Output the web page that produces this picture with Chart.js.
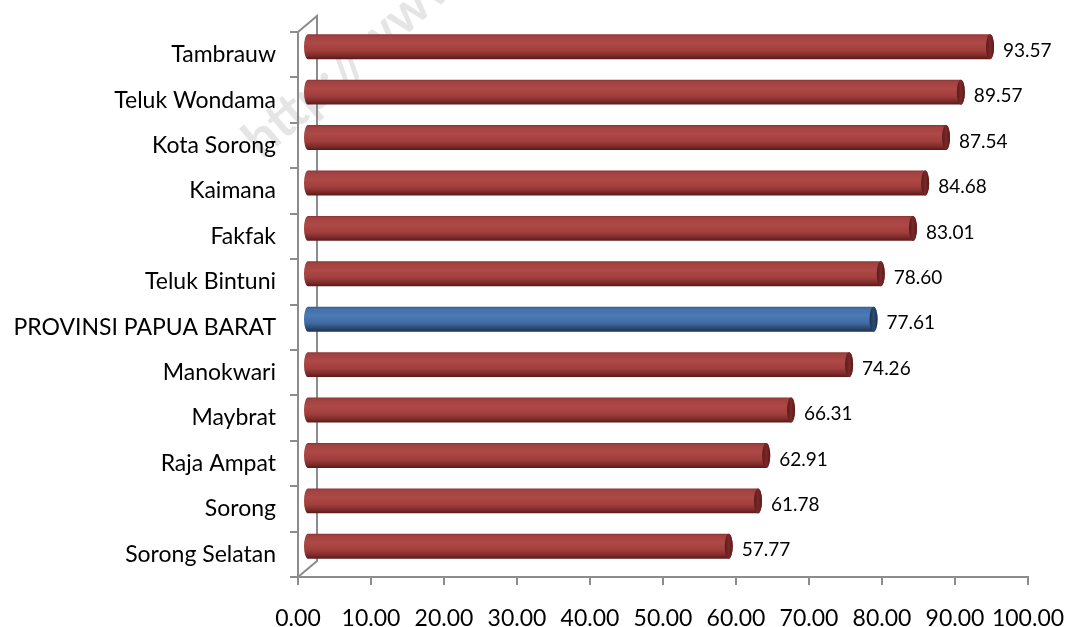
<!DOCTYPE html>
<html>
<head>
<meta charset="utf-8">
<script src="https://cdn.jsdelivr.net/npm/chart.js@4.4.1/dist/chart.umd.min.js"></script>
<style>
  html, body { margin: 0; padding: 0; background: #ffffff; }
  #wrap { width: 1067px; height: 627px; }
</style>
</head>
<body>
<div id="wrap"><canvas id="c" width="1067" height="627"></canvas></div>
<script>
// Regions, top to bottom
const regions = [
  'Tambrauw', 'Teluk Wondama', 'Kota Sorong', 'Kaimana', 'Fakfak', 'Teluk Bintuni',
  'PROVINSI PAPUA BARAT', 'Manokwari', 'Maybrat', 'Raja Ampat', 'Sorong', 'Sorong Selatan'
];
const values = [93.57, 89.57, 87.54, 84.68, 83.01, 78.60, 77.61, 74.26, 66.31, 62.91, 61.78, 57.77];
const provinceLabel = 'PROVINSI PAPUA BARAT';
const xTickValues = [0, 10, 20, 30, 40, 50, 60, 70, 80, 90, 100];

const AXIS = '#8c8c8c';
const FONT = 'Lato';
// 3D depth of the plot box and mid-depth offset for the cylinders
const DEPTH_X = 19, DEPTH_Y = -16;
const DX = 9, DY = -8, RX = 4;

const RED = {
  stops: [[0, '#8a3432'], [0.08, '#a24240'], [0.35, '#ad4947'], [0.65, '#a13f3d'], [0.86, '#7e2b2a'], [1, '#561a19']],
  cap: '#7c2828', capEdge: '#581a1a'
};
const BLUE = {
  stops: [[0, '#34598c'], [0.08, '#4570a8'], [0.35, '#4d7ab5'], [0.65, '#416ba3'], [0.86, '#2b4a72'], [1, '#1c3150']],
  cap: '#2c4b76', capEdge: '#1c3050'
};

const cylinders = {
  id: 'cylinders',
  beforeDraw(chart) {
    const ctx = chart.ctx;
    ctx.save();
    ctx.translate(262, 160);
    ctx.rotate(-41 * Math.PI / 180);
    ctx.font = 'bold 52px ' + FONT;
    ctx.fillStyle = 'rgba(0,0,0,0.1)';
    ctx.textAlign = 'left';
    ctx.textBaseline = 'alphabetic';
    ctx.fillText('http://www', 0, 0);
    ctx.restore();
  },
  beforeDatasetsDraw(chart) {
    // back wall edges of the plot box
    const ctx = chart.ctx;
    const x0 = chart.scales.x.getPixelForValue(0);
    const { top, bottom } = chart.chartArea;
    ctx.save();
    ctx.strokeStyle = AXIS;
    ctx.lineWidth = 2;
    ctx.beginPath();
    ctx.moveTo(x0, top);
    ctx.lineTo(x0 + DEPTH_X, top + DEPTH_Y);
    ctx.lineTo(x0 + DEPTH_X, bottom + DEPTH_Y);
    ctx.lineTo(x0, bottom);
    ctx.stroke();
    ctx.restore();
  },
  beforeDatasetDraw() { return false; },
  afterDatasetsDraw(chart) {
    const ctx = chart.ctx;
    const meta = chart.getDatasetMeta(0);
    meta.data.forEach((bar, i) => {
      const p = bar.getProps(['x', 'y', 'base', 'height'], true);
      const x0 = p.base + DX, x1 = p.x + DX, yc = p.y + DY, h = p.height;
      const top = yc - h / 2;
      const pal = regions[i] === provinceLabel ? BLUE : RED;
      const g = ctx.createLinearGradient(0, top, 0, top + h);
      pal.stops.forEach(s => g.addColorStop(s[0], s[1]));
      ctx.save();
      ctx.beginPath();
      ctx.moveTo(x1, top);
      ctx.lineTo(x0, top);
      ctx.ellipse(x0, yc, RX, h / 2, 0, -Math.PI / 2, Math.PI / 2, true);
      ctx.lineTo(x1, top + h);
      ctx.ellipse(x1, yc, RX, h / 2, 0, Math.PI / 2, -Math.PI / 2, true);
      ctx.closePath();
      ctx.fillStyle = g;
      ctx.fill();
      // end cap
      const cg = ctx.createLinearGradient(x1 - RX, 0, x1 + RX, 0);
      cg.addColorStop(0, pal.capEdge);
      cg.addColorStop(0.5, pal.cap);
      cg.addColorStop(1, pal.capEdge);
      ctx.beginPath();
      ctx.ellipse(x1, yc, RX, h / 2, 0, 0, Math.PI * 2);
      ctx.fillStyle = cg;
      ctx.fill();
      // value label
      ctx.font = '19px ' + FONT;
      ctx.fillStyle = '#000000';
      ctx.textAlign = 'left';
      ctx.textBaseline = 'middle';
      ctx.fillText(values[i].toFixed(2), x1 + RX + 9, yc + 4);
      ctx.restore();
    });
  }
};

new Chart(document.getElementById('c'), {
  type: 'bar',
  data: {
    labels: regions,
    datasets: [{
      data: values,
      backgroundColor: regions.map(r => r === provinceLabel ? '#4a76b1' : '#a94644'),
      barPercentage: 0.55,
      categoryPercentage: 1
    }]
  },
  options: {
    indexAxis: 'y',
    responsive: false,
    animation: false,
    layout: { padding: { left: 0, right: 39, top: 32, bottom: 0 } },
    plugins: { legend: { display: false }, tooltip: { enabled: false } },
    scales: {
      x: {
        min: 0, max: 100,
        afterBuildTicks(s) { s.ticks = xTickValues.map(v => ({ value: v })); },
        afterFit(s) { s.height = 50; s.paddingLeft = 0; s.paddingRight = 0; },
        grid: { drawOnChartArea: false, tickLength: 8, color: AXIS, lineWidth: 2 },
        border: { color: AXIS, width: 2 },
        ticks: {
          padding: 20, autoSkip: false, maxRotation: 0, color: '#000000',
          font: { family: FONT, size: 23 },
          callback: v => Number(v).toFixed(2)
        }
      },
      y: {
        afterFit(s) { s.width = 298; s.paddingTop = 0; s.paddingBottom = 0; },
        grid: { drawOnChartArea: false, tickLength: 8, color: AXIS, lineWidth: 2, offset: true },
        border: { color: AXIS, width: 2 },
        ticks: { padding: 14, autoSkip: false, color: '#000000', font: { family: FONT, size: 23 } }
      }
    }
  },
  plugins: [cylinders]
});
</script>
</body>
</html>
